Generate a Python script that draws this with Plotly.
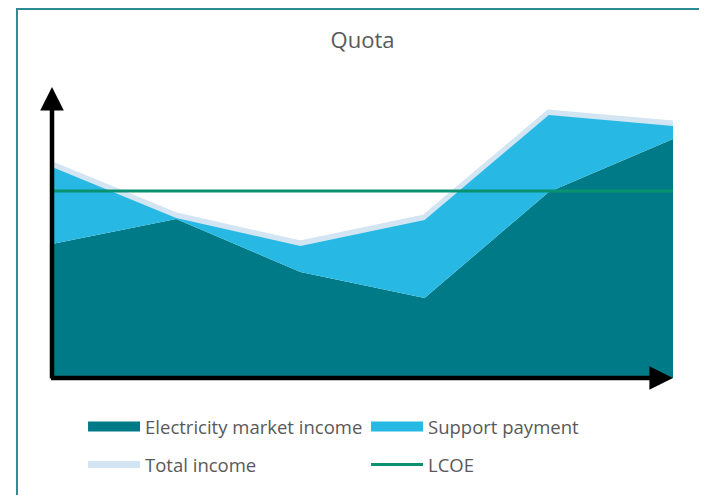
import plotly.graph_objects as go

# Data (arbitrary units)
periods = [0, 1, 2, 3, 4, 5]
market_income = [134, 159, 106, 80, 186, 239]
support_payment = [77, 1, 26, 78, 77, 13]
total_income = [m + s for m, s in zip(market_income, support_payment)]
lcoe = [187, 187, 187, 187, 187, 187]

DARK = "#007A87"
CYAN = "#27B9E3"
LIGHT = "#D3E5F3"
GREEN = "#0A9270"
TEXT = "#595959"
FONT = "Open Sans"

fig = go.Figure()

# Total income line drawn behind the areas
fig.add_trace(go.Scatter(
    x=periods, y=[t + 2 for t in total_income], mode="lines", name="Total income",
    line=dict(color=LIGHT, width=7), legend="legend2", legendrank=1,
    hoverinfo="skip"))

fig.add_trace(go.Scatter(
    x=periods, y=market_income, mode="lines", name="Electricity market income",
    line=dict(color=DARK, width=0), fillcolor=DARK,
    stackgroup="inc", showlegend=False))
fig.add_trace(go.Scatter(
    x=periods, y=support_payment, mode="lines", name="Support payment",
    line=dict(color=CYAN, width=0), fillcolor=CYAN,
    stackgroup="inc", showlegend=False))

fig.add_trace(go.Scatter(
    x=periods, y=lcoe, mode="lines", name="LCOE",
    line=dict(color=GREEN, width=3), legend="legend2", legendrank=2))

# legend entries for the areas (solid swatches)
fig.add_trace(go.Scatter(
    x=[None], y=[None], mode="lines", name="Electricity market income",
    line=dict(color=DARK, width=10), legend="legend", legendrank=1))
fig.add_trace(go.Scatter(
    x=[None], y=[None], mode="lines", name="Support payment",
    line=dict(color=CYAN, width=10), legend="legend", legendrank=2))

ymax = 291

# axis arrows
fig.add_annotation(x=0, y=ymax, ax=0, ay=-2, xref="x", yref="y", axref="x", ayref="y",
                   showarrow=True, arrowhead=2, arrowwidth=4.5, arrowsize=1.05,
                   arrowcolor="black", text="")
fig.add_annotation(x=5, y=0, ax=-0.02, ay=0, xref="x", yref="y", axref="x", ayref="y",
                   showarrow=True, arrowhead=2, arrowwidth=4.5, arrowsize=1.05,
                   arrowcolor="black", text="")

# frame
fig.add_shape(type="rect", xref="paper", yref="paper",
              x0=-0.0564, x1=1.0483, y0=-0.5, y1=1.268,
              line=dict(color="#2A8B94", width=2), fillcolor="rgba(0,0,0,0)", layer="below")

leg_common = dict(orientation="h", xanchor="left", yanchor="middle",
                  entrywidth=216, entrywidthmode="pixels", itemwidth=52,
                  traceorder="normal",
                  font=dict(family=FONT, size=18.5, color=TEXT),
                  bgcolor="rgba(0,0,0,0)")

fig.update_layout(
    width=699, height=487,
    margin=dict(l=44, r=34, t=79, b=117, autoexpand=False),
    paper_bgcolor="white", plot_bgcolor="white",
    font=dict(family=FONT, color=TEXT, size=17),
    title=dict(text="Quota", x=0.5, xref="paper", xanchor="center",
               y=1 - 32 / 487, yanchor="middle",
               font=dict(family=FONT, size=22, color=TEXT)),
    xaxis=dict(range=[0, 5], visible=False, fixedrange=True),
    yaxis=dict(range=[0, ymax], visible=False, fixedrange=True),
    showlegend=True,
    legend=dict(x=0.05, y=-0.168, **leg_common),
    legend2=dict(x=0.05, y=-0.299, **leg_common),
)

fig.write_html("out.html")
